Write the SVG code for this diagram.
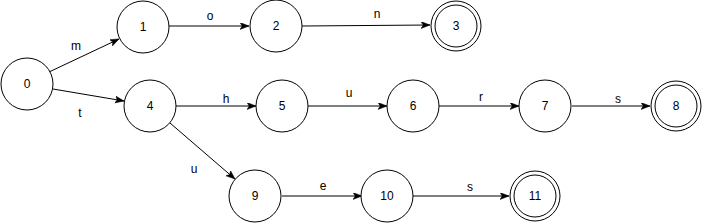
<svg xmlns="http://www.w3.org/2000/svg" width="702" height="223" viewBox="0 0 702 223">
<style>
.n circle{fill:#fff;stroke:#000;stroke-width:1}
.n text,.lbl{font-family:"Liberation Sans",Arial,sans-serif;font-size:12px;fill:#000;text-anchor:middle;dominant-baseline:central}
.e{stroke:#000;stroke-width:1;fill:none;marker-end:url(#ah)}
</style>
<defs>
<marker id="ah" markerUnits="userSpaceOnUse" markerWidth="10" markerHeight="8" refX="9" refY="3.5" orient="auto">
<path d="M0,0 L9,3.5 L0,7 L2.2,3.5 z" fill="#000" stroke="#000" stroke-width="0.5"/>
</marker>
</defs>
<rect width="702" height="223" fill="#fff"/>
<g id="edges">
<path class="e" d="M49,72 L119,39"/>
<path class="e" d="M53,89 L124,101"/>
<path class="e" d="M169,26 L249,26"/>
<path class="e" d="M302,26 L430,25"/>
<path class="e" d="M176,106 L256,106"/>
<path class="e" d="M308,106 L387,106"/>
<path class="e" d="M439,106 L519,106"/>
<path class="e" d="M572,106 L650,106"/>
<path class="e" d="M170,123 L235,179"/>
<path class="e" d="M282,196 L362,196"/>
<path class="e" d="M413,196 L509,196"/>
<text class="lbl" x="76" y="46">m</text>
<text class="lbl" x="80" y="113">t</text>
<text class="lbl" x="210" y="16">o</text>
<text class="lbl" x="377" y="14">n</text>
<text class="lbl" x="226" y="99">h</text>
<text class="lbl" x="349" y="93">u</text>
<text class="lbl" x="481" y="97">r</text>
<text class="lbl" x="618" y="99">s</text>
<text class="lbl" x="194" y="169">u</text>
<text class="lbl" x="323" y="186">e</text>
<text class="lbl" x="470" y="187">s</text>
</g>
<g id="node0" class="n"><circle cx="27" cy="84" r="26"/><text x="27" y="84">0</text></g>
<g id="node1" class="n"><circle cx="143" cy="27" r="26"/><text x="143" y="27">1</text></g>
<g id="node2" class="n"><circle cx="276" cy="26" r="26"/><text x="276" y="26">2</text></g>
<g id="node3" class="n"><circle cx="456" cy="26" r="25"/><circle cx="456" cy="26" r="21"/><text x="456" y="26">3</text></g>
<g id="node4" class="n"><circle cx="150" cy="106" r="26"/><text x="150" y="106">4</text></g>
<g id="node5" class="n"><circle cx="282" cy="106" r="26"/><text x="282" y="106">5</text></g>
<g id="node6" class="n"><circle cx="413" cy="106" r="26"/><text x="413" y="106">6</text></g>
<g id="node7" class="n"><circle cx="545" cy="106" r="26"/><text x="545" y="106">7</text></g>
<g id="node8" class="n"><circle cx="676" cy="106" r="25"/><circle cx="676" cy="106" r="21"/><text x="676" y="106">8</text></g>
<g id="node9" class="n"><circle cx="255" cy="196" r="26"/><text x="255" y="196">9</text></g>
<g id="node10" class="n"><circle cx="387" cy="196" r="26"/><text x="387" y="196">10</text></g>
<g id="node11" class="n"><circle cx="535" cy="196" r="25"/><circle cx="535" cy="196" r="21"/><text x="535" y="196">11</text></g>
</svg>
